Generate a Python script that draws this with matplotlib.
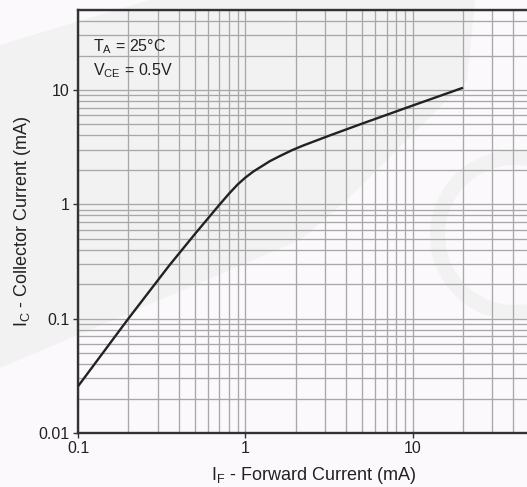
import matplotlib
matplotlib.use("Agg")
import matplotlib.pyplot as plt
from matplotlib.patches import Polygon, Wedge
from matplotlib.ticker import LogLocator, NullFormatter, FixedLocator, FixedFormatter

plt.rcParams["font.family"] = ["Liberation Sans", "DejaVu Sans"]
plt.rcParams["mathtext.default"] = "regular"

# Collector current vs. forward current (TA = 25 °C, VCE = 0.5 V)
forward_current_ma = [0.1, 0.2, 0.35, 0.5, 0.7, 0.8, 0.9, 1.0, 1.12, 1.26,
                      1.4, 1.6, 1.9, 2.2, 3.2, 5.0, 10, 20]
collector_current_ma = [0.0256, 0.1, 0.29, 0.55, 0.99, 1.24, 1.49, 1.71, 1.94,
                        2.16, 2.38, 2.63, 2.97, 3.25, 4.0, 5.08, 7.3, 10.45]

x_ticks = [0.1, 1, 10]
x_tick_labels = ["0.1", "1", "10"]
y_ticks = [0.01, 0.1, 1, 10]
y_tick_labels = ["0.01", "0.1", "1", "10"]

W, H = 527, 487
fig = plt.figure(figsize=(W / 100, H / 100), dpi=100, facecolor="#fcf9fc")

def px(x, y):
    return (x / W, 1 - y / H)

# faint background watermark
wm = "#f2f2f2"
band = [px(0, 45), px(150, 0), px(475, 0), px(467, 80), px(400, 147),
        px(347, 200), px(300, 240), px(120, 317), px(0, 368)]
fig.patches.append(Polygon(band, closed=True, transform=fig.transFigure,
                           facecolor=wm, edgecolor="none", zorder=-5))
ring = Wedge((515, H - 235), 85, 0, 360, width=15, facecolor=wm,
             edgecolor="none", zorder=-5, transform=None)
fig.patches.append(ring)

left, bottom = 78 / W, 54 / H
width = 3 * 167.3 / W
height = 423 / H
ax = fig.add_axes([left, bottom, width, height])
ax.set_zorder(2)
ax.set_facecolor("none")
ax.set_xscale("log")
ax.set_yscale("log")
ax.set_xlim(0.1, 100)
ax.set_ylim(0.01, 50)

ax.xaxis.set_major_locator(FixedLocator(x_ticks))
ax.xaxis.set_major_formatter(FixedFormatter(x_tick_labels))
ax.yaxis.set_major_locator(FixedLocator(y_ticks))
ax.yaxis.set_major_formatter(FixedFormatter(y_tick_labels))
ax.xaxis.set_minor_locator(LogLocator(base=10, subs=range(1, 10), numticks=20))
ax.yaxis.set_minor_locator(LogLocator(base=10, subs=range(1, 10), numticks=20))
ax.xaxis.set_minor_formatter(NullFormatter())
ax.yaxis.set_minor_formatter(NullFormatter())

ax.grid(True, which="both", color="#a8a8a8", linewidth=0.95)
ax.set_axisbelow(True)
ax.tick_params(which="major", direction="out", length=3.5, width=1.0,
               color="#333333", labelsize=11.5, pad=2.5, labelcolor="#222222")
ax.tick_params(which="minor", length=0)
for side in ("left", "bottom", "top", "right"):
    ax.spines[side].set_color("#333333")
    ax.spines[side].set_linewidth(1.7)

ax.plot(forward_current_ma, collector_current_ma, color="#222222",
        linewidth=1.7, solid_capstyle="butt", solid_joinstyle="round", zorder=3)

ax.set_xlabel("$I_F$ - Forward Current (mA)", fontsize=13, color="#222222",
              labelpad=4)
ax.xaxis.set_label_coords((313.5 - 78) / (3 * 167.3), -0.075)
ax.set_ylabel("$I_C$ - Collector Current (mA)", fontsize=13, color="#222222",
              labelpad=4)

fig.text(93 / W, 1 - 51 / H, "$T_A$ = 25°C", fontsize=11.5, color="#222222",
         va="baseline", ha="left", zorder=5)
fig.text(93 / W, 1 - 75 / H, "$V_{CE}$ = 0.5V", fontsize=11.5, color="#222222",
         va="baseline", ha="left", zorder=5)

fig.savefig("out.png", dpi=100, facecolor=fig.get_facecolor())
